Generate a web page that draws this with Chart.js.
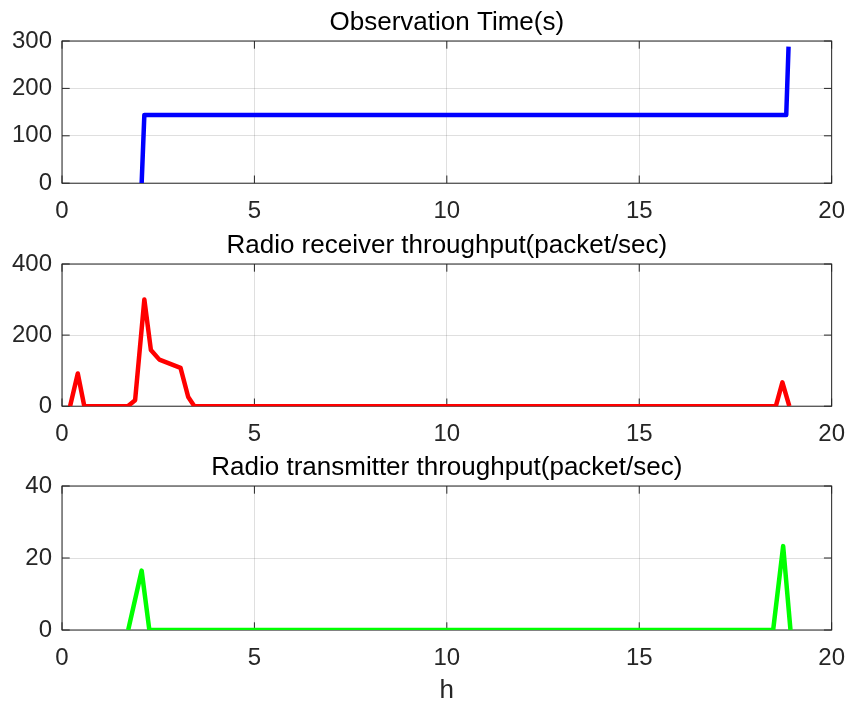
<!DOCTYPE html>
<html>
<head>
<meta charset="utf-8">
<script src="https://cdn.jsdelivr.net/npm/chart.js@4.4.1/dist/chart.umd.min.js"></script>
<style>
  html, body { margin: 0; padding: 0; background: #fff; overflow: hidden; }
  #wrap { position: relative; width: 859px; height: 702px; overflow: hidden; }
  canvas { position: absolute; left: 0; }
</style>
</head>
<body>
<div id="wrap">
  <canvas id="c1" width="859" height="227" style="top:0px;width:859px;height:227px"></canvas>
  <canvas id="c2" width="859" height="227" style="top:223px;width:859px;height:227px"></canvas>
  <canvas id="c3" width="859" height="259" style="top:445px;width:859px;height:259px"></canvas>
</div>
<script>
// observation time
let obsX = [2.07, 2.14, 18.82, 18.88];
let obsY = [0, 144, 144, 288];

// receiver throughput
let rxX = [0.21, 0.41, 0.58, 1.71, 1.90, 2.14, 2.31, 2.53, 3.08, 3.28, 3.44, 18.55, 18.72, 18.90];
let rxY = [0, 92, 0, 0, 17, 300, 158, 131, 108, 26, 0, 0, 67, 0];

// transmitter throughput
let txX = [1.72, 2.07, 2.27, 18.48, 18.74, 18.93];
let txY = [0, 16.5, 0, 0, 23.3, 0];

let xTicks = [0, 5, 10, 15, 20];

let axisColor = "#262626";
let gridColor = "rgba(38,38,38,0.15)";
let fontFamily = "'Liberation Sans', Arial, Helvetica, sans-serif";

// MATLAB style box with inward ticks, title centred over the plot area
const boxPlugin = {
  id: 'box',
  afterLayout(chart) {
    if (chart.titleBlock) {
      chart.titleBlock.left = chart.chartArea.left;
      chart.titleBlock.right = chart.chartArea.right;
    }
  },
  beforeDatasetsDraw(chart) {
    let ctx = chart.ctx;
    let a = chart.chartArea;
    let x = chart.scales.x, y = chart.scales.y;
    let tl = 7.7;
    ctx.save();
    ctx.strokeStyle = axisColor;
    ctx.lineWidth = 1;
    ctx.beginPath();
    x.ticks.forEach(t => {
      let px = x.getPixelForValue(t.value);
      ctx.moveTo(px, a.bottom); ctx.lineTo(px, a.bottom - tl);
      ctx.moveTo(px, a.top); ctx.lineTo(px, a.top + tl);
    });
    y.ticks.forEach(t => {
      let py = y.getPixelForValue(t.value);
      ctx.moveTo(a.left, py); ctx.lineTo(a.left + tl, py);
      ctx.moveTo(a.right, py); ctx.lineTo(a.right - tl, py);
    });
    ctx.stroke();
    ctx.strokeRect(a.left, a.top, a.right - a.left, a.bottom - a.top);
    ctx.restore();
  }
};

function createChart(id, title, xs, ys, color, yMax, yStep, xLabel) {
  let ctx = document.getElementById(id).getContext('2d');
  return new Chart(ctx, {
    type: 'line',
    data: {
      datasets: [{
        data: xs.map((v, i) => ({ x: v, y: ys[i] })),
        borderColor: color,
        backgroundColor: color,
        borderWidth: 4.5,
        borderJoinStyle: 'round',
        pointRadius: 0,
        tension: 0,
        fill: false,
      }],
    },
    options: {
      responsive: false,
      animation: false,
      devicePixelRatio: 1,
      layout: { padding: { left: 0, right: 27, top: 0, bottom: xLabel ? 0 : 1 } },
      plugins: {
        legend: { display: false },
        tooltip: { enabled: false },
        title: {
          display: true,
          text: title,
          color: '#000',
          font: { family: fontFamily, size: 26, weight: 'normal', lineHeight: 1.2 },
          padding: { top: 7.4, bottom: 2.4 },
        },
      },
      scales: {
        x: {
          type: 'linear',
          min: 0,
          max: 20,
          afterBuildTicks: s => { s.ticks = xTicks.map(v => ({ value: v })); },
          afterFit: s => { s.height = xLabel ? 74 : 42.8; },
          ticks: {
            color: axisColor,
            font: { family: fontFamily, size: 24, lineHeight: 1.2 },
            padding: 14,
            maxRotation: 0,
          },
          grid: { color: gridColor, drawTicks: false },
          border: { display: false },
          title: {
            display: !!xLabel,
            text: xLabel || '',
            color: axisColor,
            font: { family: fontFamily, size: 26, lineHeight: 1 },
            padding: { top: 5, bottom: 0 },
          },
        },
        y: {
          min: 0,
          max: yMax,
          ticks: {
            stepSize: yStep,
            color: axisColor,
            font: { family: fontFamily, size: 24, lineHeight: 1.2 },
            padding: 10,
          },
          grid: { color: gridColor, drawTicks: false },
          border: { display: false },
          afterFit: s => { s.width = 62; },
        },
      },
    },
    plugins: [boxPlugin],
  });
}

createChart('c1', 'Observation Time(s)', obsX, obsY, '#0000ff', 300, 100);
createChart('c2', 'Radio receiver throughput(packet/sec)', rxX, rxY, '#ff0000', 400, 200);
createChart('c3', 'Radio transmitter throughput(packet/sec)', txX, txY, '#00ff00', 40, 20, 'h');
</script>
</body>
</html>
